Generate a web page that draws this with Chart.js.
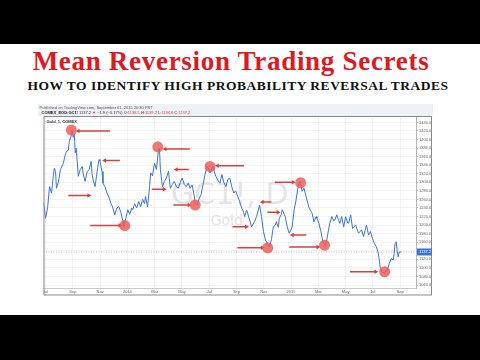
<!DOCTYPE html>
<html>
<head>
<meta charset="utf-8">
<script src="https://cdn.jsdelivr.net/npm/chart.js@4.4.1/dist/chart.umd.min.js"></script>
<style>
  html, body { margin: 0; padding: 0; background: #fff; }
  #page { position: relative; width: 480px; height: 360px; overflow: hidden; background: #fff; }
  .bar { position: absolute; left: 0; width: 480px; background: #000; }
  #title { position: absolute; left: 0; width: 462px; top: 48px; text-align: center; letter-spacing: 0.7px;
    font: bold 27px/27px "Liberation Serif", "Times New Roman", serif; color: #dc1a1f; }
  #subtitle { position: absolute; left: 0; width: 476px; top: 79px; text-align: center; letter-spacing: 0.5px;
    font: bold 13.5px/14px "Liberation Serif", "Times New Roman", serif; color: #111; }
  #myChart { position: absolute; left: 38px; top: 104px; }
</style>
</head>
<body>
<div id="page">
  <div class="bar" style="top:0;height:44px"></div>
  <div id="title">Mean Reversion Trading Secrets</div>
  <div id="subtitle">HOW TO IDENTIFY HIGH PROBABILITY REVERSAL TRADES</div>
  <canvas id="myChart" width="396" height="192"></canvas>
  <div class="bar" style="top:315px;height:45px"></div>
</div>
<script>
// months since Jul 2013 and daily close of Gold (COMEX GC1!)
const months = [
  -0.15, -0.07, 0, 0.15, 0.29, 0.44, 0.58, 0.65, 0.73, 0.80, 0.94, 1.09, 1.31, 1.45, 1.53, 1.67, 1.74, 1.89, 1.96, 2.03,
  2.11, 2.18, 2.25, 2.40, 2.54, 2.69, 2.76, 2.90, 3.05, 3.20, 3.34, 3.41, 3.49, 3.63, 3.78, 3.92, 3.99, 4.14, 4.21, 4.36,
  4.50, 4.65, 4.79, 4.94, 5.08, 5.23, 5.37, 5.52, 5.66, 5.74, 5.88, 6.03, 6.17, 6.32, 6.39, 6.54, 6.68, 6.83, 6.97, 7.12,
  7.26, 7.33, 7.48, 7.63, 7.70, 7.84, 7.99, 8.13, 8.28, 8.35, 8.42, 8.57, 8.71, 8.86, 9.01, 9.15, 9.30, 9.44, 9.59, 9.73,
  9.88, 10.02, 10.17, 10.31, 10.46, 10.60, 10.75, 10.89, 10.97, 11.11, 11.26, 11.40, 11.55, 11.69, 11.84, 11.98, 12.06, 12.20, 12.27, 12.42,
  12.49, 12.64, 12.78, 12.93, 13.07, 13.22, 13.36, 13.51, 13.65, 13.80, 13.94, 14.09, 14.23, 14.38, 14.52, 14.60, 14.74, 14.81, 14.96, 15.11,
  15.25, 15.32, 15.47, 15.54, 15.69, 15.83, 15.98, 16.12, 16.27, 16.41, 16.56, 16.70, 16.85, 16.92, 17.07, 17.14, 17.28, 17.36, 17.50, 17.57,
  17.72, 17.86, 18.01, 18.08, 18.23, 18.37, 18.52, 18.66, 18.81, 18.95, 19.10, 19.24, 19.32, 19.46, 19.54, 19.68, 19.83, 19.90, 20.04, 20.19,
  20.33, 20.48, 20.62, 20.70, 20.84, 20.99, 21.13, 21.21, 21.35, 21.50, 21.57, 21.71, 21.86, 22.00, 22.15, 22.22, 22.37, 22.51, 22.73, 22.95,
  23.17, 23.31, 23.53, 23.68, 23.82, 23.97, 24.11, 24.26, 24.40, 24.55, 24.69, 24.84, 25.05, 25.20, 25.34, 25.49, 25.56, 25.63, 25.71, 25.78,
  25.85, 25.93, 26.07
];
const prices = [
  1253, 1235, 1216, 1240, 1290, 1275, 1320, 1333, 1325, 1286, 1300, 1330, 1345, 1365, 1372, 1375, 1395, 1410, 1420, 1405,
  1412, 1369, 1380, 1314, 1330, 1337, 1320, 1302, 1325, 1330, 1349, 1320, 1305, 1290, 1325, 1353, 1350, 1325, 1298, 1290,
  1275, 1265, 1251, 1240, 1224, 1240, 1243, 1230, 1210, 1196, 1215, 1236, 1225, 1240, 1236, 1250, 1240, 1255, 1243, 1260,
  1250, 1267, 1243, 1290, 1322, 1315, 1345, 1330, 1377, 1380, 1330, 1290, 1302, 1310, 1326, 1286, 1295, 1302, 1290, 1286,
  1300, 1310, 1295, 1290, 1298, 1286, 1294, 1270, 1250, 1247, 1262, 1271, 1295, 1318, 1337, 1330, 1322, 1333, 1337, 1320,
  1314, 1305, 1298, 1318, 1300, 1290, 1307, 1310, 1290, 1275, 1280, 1267, 1255, 1240, 1230, 1220, 1235, 1228, 1212, 1196,
  1205, 1208, 1220, 1228, 1247, 1220, 1185, 1165, 1157, 1149, 1166, 1196, 1200, 1208, 1195, 1216, 1225, 1236, 1225, 1220,
  1196, 1181, 1190, 1196, 1236, 1259, 1290, 1302, 1279, 1286, 1267, 1250, 1240, 1232, 1228, 1208, 1220, 1216, 1204, 1185,
  1161, 1153, 1165, 1181, 1204, 1220, 1210, 1212, 1224, 1210, 1204, 1220, 1196, 1220, 1205, 1204, 1224, 1192, 1200, 1181,
  1189, 1173, 1200, 1177, 1185, 1169, 1157, 1149, 1134, 1098, 1090, 1088, 1094, 1110, 1122, 1118, 1134, 1157, 1161, 1140,
  1126, 1137, 1137.2
];

// reversal points (red circles)
const pivotMonths = [1.89, 5.81, 8.23, 10.97, 12.06, 16.29, 18.70, 20.46, 24.86];
const pivotPrices = [1422, 1199, 1383, 1247, 1337, 1147, 1299, 1153, 1091];

// arrows: tail month, head month, price level
const arrowTail  = [4.72, 5.45, 1.67, 3.27, 10.58, 10.51, 7.79, 9.37, 14.55, 13.70, 14.07, 16.56, 16.27, 16.81, 17.86, 19.12, 22.32];
const arrowHead  = [2.40, 4.34, 3.17, 5.45, 8.77, 9.59, 8.69, 10.51, 12.61, 14.72, 15.88, 15.90, 17.04, 18.15, 19.97, 18.10, 24.21];
const arrowPrice = [1420, 1351, 1269, 1199, 1378, 1330, 1284, 1247, 1339, 1196, 1147, 1254, 1230, 1300, 1149, 1177, 1091];

const tickMonths = [0, 2, 4, 6, 8, 10, 12, 14, 16, 18, 20, 22, 24, 26];
const tickLabels = ['Jul', 'Sep', 'Nov', '2014', 'Mar', 'May', 'Jul', 'Sep', 'Nov', '2015', 'Mar', 'May', 'Jul', 'Sep'];
const priceTicks = [1060, 1080, 1100, 1120, 1140, 1160, 1180, 1200, 1220, 1240, 1260, 1280, 1300, 1320, 1340, 1360, 1380, 1400, 1420, 1440];

const lastPrice = 1137.2;
const xMin = -0.15, xMax = 27.16;
const yMin = 1053, yMax = 1455;

const RED = '#d9403c';
const BLUE = '#3d74d4';

const datasets = [];

datasets.push({
  label: 'pivots',
  type: 'scatter',
  data: pivotMonths.map((m, i) => ({ x: m, y: pivotPrices[i] })),
  backgroundColor: 'rgba(234, 90, 86, 0.82)',
  borderWidth: 0,
  pointRadius: 5.5,
  order: 1
});

arrowTail.forEach((t, i) => {
  const right = arrowHead[i] > t;
  datasets.push({
    label: 'arrow' + i,
    type: 'line',
    data: [{ x: t, y: arrowPrice[i] }, { x: arrowHead[i], y: arrowPrice[i] }],
    borderColor: RED,
    backgroundColor: RED,
    borderWidth: 1.5,
    pointStyle: 'triangle',
    pointRadius: [0, 2.6],
    pointBorderWidth: 0,
    pointRotation: right ? 90 : -90,
    order: 2
  });
});

datasets.push({
  label: 'Gold',
  type: 'line',
  data: months.map((m, i) => ({ x: m, y: prices[i] })),
  borderColor: BLUE,
  borderWidth: 1,
  pointRadius: 0,
  tension: 0,
  order: 3
});

datasets.push({
  label: 'last',
  type: 'line',
  data: [{ x: xMin, y: lastPrice }, { x: xMax, y: lastPrice }],
  borderColor: '#8db0e6',
  borderWidth: 0.8,
  borderDash: [1, 1.5],
  pointRadius: 0,
  order: 4
});

const tvDecor = {
  id: 'tvDecor',
  beforeDraw(chart) {
    const ctx = chart.ctx;
    ctx.save();
    ctx.fillStyle = '#fff';
    ctx.fillRect(0, 0, chart.width, chart.height);
    ctx.fillStyle = '#eef1f5';
    ctx.fillRect(0, 0, 395, 12);
    ctx.textBaseline = 'alphabetic';
    ctx.font = '4px "Liberation Sans", Arial, sans-serif';
    ctx.fillStyle = '#555';
    ctx.fillText('Published on TradingView.com, September 01, 2015 20:30 PST', 1.5, 4.5);
    const parts = [
      ['COMEX_EOD:GC1! ', '#222', true], ['1137.2 ', '#333', false], ['\u25BC ', RED, false],
      ['\u22121.9 (\u22120.17%) O:', '#333', false], ['1138.5', RED, false], [' H:', '#333', false],
      ['1139.2', RED, false], [' L:', '#333', false], ['1134.6', RED, false], [' C:', '#333', false], ['1137.2', RED, false]
    ];
    let x = 3.5;
    parts.forEach(([t, c, b]) => {
      ctx.font = (b ? 'bold ' : '') + '4px "Liberation Sans", Arial, sans-serif';
      ctx.fillStyle = c;
      ctx.fillText(t, x, 10);
      x += ctx.measureText(t).width;
    });
    ctx.restore();
  },
  beforeDatasetsDraw(chart) {
    const ctx = chart.ctx;
    const a = chart.chartArea;
    const cx = (a.left + a.right) / 2;
    ctx.save();
    ctx.fillStyle = '#e4e4e4';
    ctx.textAlign = 'center';
    ctx.font = '30px "DejaVu Sans", sans-serif';
    ctx.fillText('GC1!, D', cx, 100);
    ctx.font = '14px "DejaVu Sans", sans-serif';
    ctx.fillText('Gold', cx - 3, 121);
    ctx.restore();
  },
  afterDraw(chart) {
    const ctx = chart.ctx;
    const a = chart.chartArea;
    const y = chart.scales.y;
    ctx.save();
    ctx.strokeStyle = '#8a8a8a';
    ctx.lineWidth = 1;
    ctx.strokeRect(a.left + 0.5, a.top + 0.5, 393 - a.left, 191 - a.top - 0.5);
    ctx.font = 'bold 4px "Liberation Sans", Arial, sans-serif';
    ctx.fillStyle = '#333';
    ctx.fillText('Gold, 1, COMEX', a.left + 3, a.top + 6.5);
    const py = y.getPixelForValue(lastPrice);
    ctx.fillStyle = '#3d74d4';
    ctx.fillRect(a.right + 1, py - 3.5, 15, 7);
    ctx.fillStyle = '#fff';
    ctx.font = '4px "Liberation Sans", Arial, sans-serif';
    ctx.textBaseline = 'middle';
    ctx.fillText(lastPrice.toFixed(1), a.right + 3, py + 0.3);
    ctx.restore();
  }
};

const myChart = new Chart(document.getElementById('myChart').getContext('2d'), {
  type: 'line',
  data: { datasets: datasets },
  plugins: [tvDecor],
  options: {
    responsive: false,
    animation: false,
    devicePixelRatio: 1,
    layout: { padding: { left: 2, right: 1, top: 12, bottom: 1 } },
    plugins: { legend: { display: false }, tooltip: { enabled: false } },
    scales: {
      x: {
        type: 'linear',
        min: xMin,
        max: xMax,
        afterBuildTicks: axis => { axis.ticks = tickMonths.map(v => ({ value: v })); },
        afterFit: axis => { axis.height = 7; },
        grid: { color: '#f0f0f0', lineWidth: 0.8, drawTicks: false },
        border: { color: '#c8c8c8' },
        ticks: {
          autoSkip: false,
          maxRotation: 0,
          padding: 1.5,
          color: '#666',
          font: { size: 4, family: '"Liberation Sans", Arial, sans-serif' },
          callback: (v, i) => tickLabels[i]
        }
      },
      y: {
        position: 'right',
        min: yMin,
        max: yMax,
        afterBuildTicks: axis => { axis.ticks = priceTicks.map(v => ({ value: v })); },
        afterFit: axis => { axis.width = 17; },
        grid: { color: '#f0f0f0', lineWidth: 0.8, tickLength: 2, tickColor: '#aaa' },
        border: { color: '#b5b5b5' },
        ticks: {
          padding: 1,
          color: '#666',
          font: { size: 4, family: '"Liberation Sans", Arial, sans-serif' },
          callback: v => Number(v).toFixed(1)
        }
      }
    }
  }
});
</script>
</body>
</html>
